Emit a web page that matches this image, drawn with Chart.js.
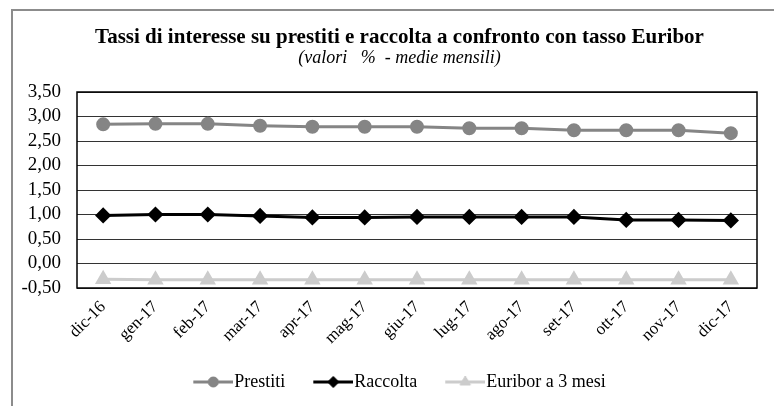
<!DOCTYPE html>
<html>
<head>
<meta charset="utf-8">
<script src="https://cdn.jsdelivr.net/npm/chart.js@4/dist/chart.umd.min.js"></script>
<style>
  html, body { margin: 0; padding: 0; background: #fff; }
  #wrap { position: relative; width: 774px; height: 406px; }
</style>
</head>
<body>
<div id="wrap"><canvas id="chart" width="774" height="406"></canvas></div>
<script>
// Monthly averages (%)
const months = ['dic-16', 'gen-17', 'feb-17', 'mar-17', 'apr-17', 'mag-17', 'giu-17',
  'lug-17', 'ago-17', 'set-17', 'ott-17', 'nov-17', 'dic-17'];
const prestiti = [2.84, 2.85, 2.85, 2.81, 2.79, 2.79, 2.79, 2.76, 2.76, 2.72, 2.72, 2.72, 2.66];
const raccolta = [0.98, 1.00, 1.00, 0.97, 0.94, 0.94, 0.95, 0.95, 0.95, 0.95, 0.89, 0.89, 0.88];
const euribor = [-0.32, -0.33, -0.33, -0.33, -0.33, -0.33, -0.33, -0.33, -0.33, -0.33, -0.33, -0.33, -0.33];
const yTicks = [-0.5, 0, 0.5, 1, 1.5, 2, 2.5, 3, 3.5];

const serif = "'Liberation Serif', 'Times New Roman', serif";

// line + marker image for the legend (line drawn from px 8 to 48)
function legendIcon(color, style, r) {
  const c = document.createElement('canvas');
  c.width = 48; c.height = 14;
  const g = c.getContext('2d');
  g.strokeStyle = color; g.lineWidth = 3;
  g.beginPath(); g.moveTo(8, 7); g.lineTo(48, 7); g.stroke();
  g.fillStyle = color;
  g.strokeStyle = color; g.lineWidth = 1;
  Chart.helpers.drawPoint(g, {pointStyle: style, radius: r, borderWidth: 1}, 28, 7);
  g.fill();
  return c;
}

// outer frame (left + top only) and plot rectangle
const framePlugin = {
  id: 'frame',
  beforeDraw(chart) {
    const ctx = chart.ctx;
    ctx.save();
    ctx.strokeStyle = '#8c8c8c';
    ctx.lineWidth = 2;
    ctx.beginPath();
    ctx.moveTo(12, 406); ctx.lineTo(12, 10); ctx.lineTo(774, 10);
    ctx.stroke();
    ctx.restore();
  },
  afterDatasetsDraw(chart) {
    const a = chart.chartArea;
    const ctx = chart.ctx;
    ctx.save();
    ctx.strokeStyle = '#000';
    ctx.lineWidth = 1.5;
    ctx.strokeRect(a.left, a.top, a.right - a.left, a.bottom - a.top);
    ctx.restore();
  }
};

new Chart(document.getElementById('chart'), {
  type: 'line',
  data: {
    labels: months,
    datasets: [
      {
        label: 'Prestiti', data: prestiti,
        borderColor: '#858585', backgroundColor: '#858585',
        borderWidth: 3, pointStyle: 'circle', pointRadius: 5.5
      },
      {
        label: 'Raccolta', data: raccolta,
        borderColor: '#000000', backgroundColor: '#000000',
        borderWidth: 3, pointStyle: 'rectRot', pointRadius: 6
      },
      {
        label: 'Euribor a 3 mesi', data: euribor,
        borderColor: '#cccccc', backgroundColor: '#cccccc',
        borderWidth: 3, pointStyle: 'triangle', pointRadius: 6.5
      }
    ]
  },
  options: {
    responsive: false,
    animation: false,
    layout: { padding: { left: 20, right: -5, top: 0, bottom: 5 } },
    plugins: {
      title: {
        display: true,
        text: 'Tassi di interesse su prestiti e raccolta a confronto con tasso Euribor',
        color: '#000',
        font: { family: serif, size: 21, weight: 'bold', lineHeight: 1 },
        padding: { top: 27, bottom: 0 }
      },
      subtitle: {
        display: true,
        text: '(valori   %  - medie mensili)',
        color: '#000',
        font: { family: serif, size: 18, style: 'italic', lineHeight: 1 },
        padding: { top: 1.5, bottom: 24.5 }
      },
      legend: {
        position: 'bottom',
        labels: {
          color: '#000',
          font: { family: serif, size: 18 },
          usePointStyle: true,
          pointStyleWidth: 32,
          padding: 28,
          generateLabels(chart) {
            const ds = chart.data.datasets;
            return ds.map((d, i) => ({
              text: d.label,
              pointStyle: legendIcon(d.borderColor, d.pointStyle, d.pointRadius - 0.5),
              fillStyle: d.borderColor,
              strokeStyle: d.borderColor,
              lineWidth: 0,
              fontColor: '#000',
              datasetIndex: i
            }));
          }
        }
      },
      tooltip: { enabled: false }
    },
    scales: {
      x: {
        offset: true,
        grid: { display: false, drawTicks: false },
        border: { display: false },
        ticks: {
          color: '#000',
          font: { family: serif, size: 17 },
          minRotation: 45, maxRotation: 45,
          padding: 9
        },
        afterFit(scale) { scale.height = 57; }
      },
      y: {
        min: -0.5, max: 3.5,
        afterBuildTicks(scale) { scale.ticks = yTicks.map(v => ({ value: v })); },
        grid: { color: '#333333', lineWidth: 1, drawTicks: false },
        border: { display: false },
        ticks: {
          color: '#000',
          font: { family: serif, size: 19, lineHeight: 1 },
          autoSkip: false,
          padding: 16,
          callback: v => v.toFixed(2).replace('.', ',')
        },
        afterFit(scale) { scale.width = 57; }
      },
      // empty right-hand axis, only reserves space
      yRight: {
        position: 'right',
        grid: { display: false, drawTicks: false },
        border: { display: false },
        ticks: { display: false },
        afterFit(scale) { scale.width = 22; }
      }
    }
  },
  plugins: [framePlugin]
});
</script>
</body>
</html>
